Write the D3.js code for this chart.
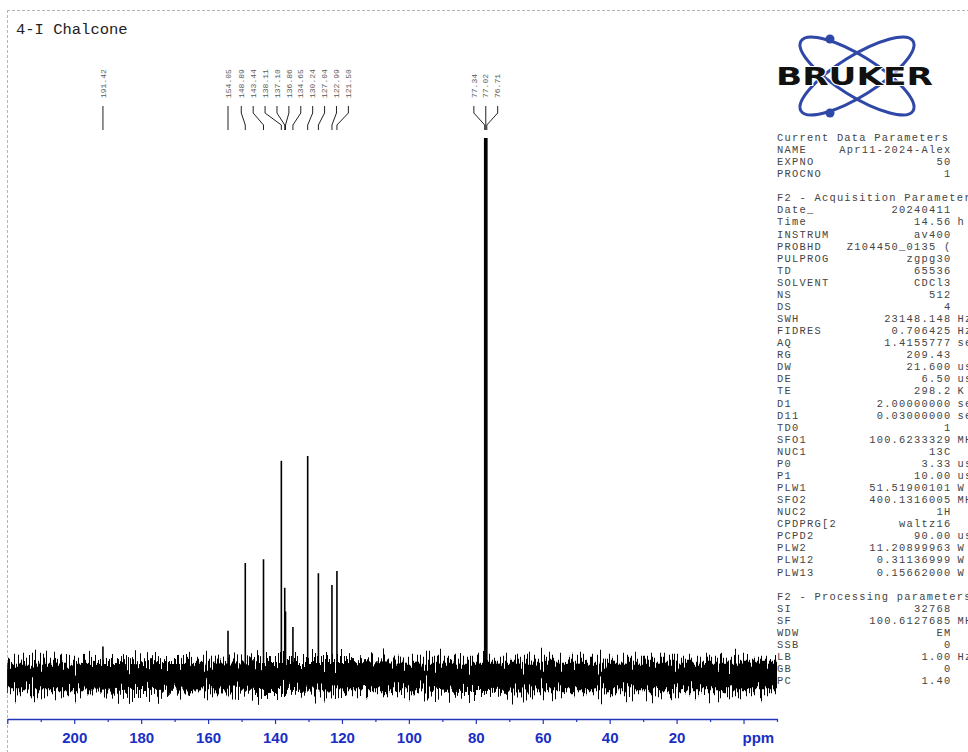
<!DOCTYPE html>
<html><head><meta charset="utf-8">
<script src="https://cdn.jsdelivr.net/npm/d3@7/dist/d3.min.js"></script>
<style>html,body{margin:0;padding:0;background:#fff;overflow:hidden}</style>
</head><body>
<svg id="chart" width="968" height="752"></svg>
<script>
// ---------- data ----------
const title = "4-I Chalcone";
const peakPpm    = [191.42, 154.05, 148.89, 143.44, 138.11, 137.10, 136.86, 134.65, 130.24, 127.04, 122.99, 121.50, 77.34, 77.02, 76.71];
const peakHeight = [5.5,    8.4,    21.0,   21.7,   40.0,   16.4,   12.0,   9.1,    40.9,   19.1,   16.9,   19.5,   100,   100,   100];
const noisePpm   = [220, 200, 180, 160, 140, 120, 100, 80, 60, 40, 20, 0, -10];
const noiseUpper = [2.3, 2.3, 2.2, 2.3, 2.4, 2.4, 2.3, 2.3, 2.3, 2.3, 2.3, 2.3, 2.3];
const noiseLower = [-2.3, -2.3, -2.4, -2.3, -2.4, -2.3, -2.3, -2.4, -2.3, -2.3, -2.3, -2.3, -2.3];
const majorTicks = [220, 200, 180, 160, 140, 120, 100, 80, 60, 40, 20, 0];
const tickLabels = ["", "200", "180", "160", "140", "120", "100", "80", "60", "40", "20", ""];
const minorTicks = [210, 190, 170, 150, 130, 110, 90, 70, 50, 30, 10, -10];
const axisUnit = "ppm";
const logoText = "BRUKER";
const paramNames = ["Current Data Parameters","NAME","EXPNO","PROCNO","",
  "F2 - Acquisition Parameters","Date_","Time","INSTRUM","PROBHD","PULPROG","TD","SOLVENT","NS","DS",
  "SWH","FIDRES","AQ","RG","DW","DE","TE","D1","D11","TD0","SFO1","NUC1","P0","P1","PLW1","SFO2",
  "NUC2","CPDPRG[2","PCPD2","PLW2","PLW12","PLW13","",
  "F2 - Processing parameters","SI","SF","WDW","SSB","LB","GB","PC"];
const paramValues = ["","Apr11-2024-Alex","50","1","",
  "","20240411","14.56","av400","Z104450_0135 (","zgpg30","65536","CDCl3","512","4",
  "23148.148","0.706425","1.4155777","209.43","21.600","6.50","298.2","2.00000000","0.03000000","1","100.6233329","13C","3.33","10.00","51.51900101","400.1316005",
  "1H","waltz16","90.00","11.20899963","0.31136999","0.15662000","",
  "","32768","100.6127685","EM","0","1.00","0","1.40"];
const paramUnits = ["","","","","",
  "","","h","","","","","","","",
  "Hz","Hz","sec","","usec","usec","K","sec","sec","","MHz","","usec","usec","W","MHz",
  "","","usec","W","W","W","",
  "","","MHz","","","Hz","",""];

// ---------- layout ----------
const svg = d3.select("#chart");
const x = d3.scaleLinear().domain([220, -10]).range([7.3, 777]);
const y = d3.scaleLinear().domain([0, 100]).range([676, 138]);
const axisY = 719;
const blue = "#2436b8";

// dashed frame
svg.append("line").attr("x1", 7).attr("x2", 968).attr("y1", 10.5).attr("y2", 10.5)
  .attr("stroke", "#b4b4b4").attr("stroke-dasharray", "3,2");
svg.append("line").attr("x1", 7.5).attr("x2", 7.5).attr("y1", 10).attr("y2", 752)
  .attr("stroke", "#b4b4b4").attr("stroke-dasharray", "3,2");

// title
svg.append("text").attr("x", 16).attr("y", 34).text(title)
  .attr("font-family", "'Liberation Mono', 'DejaVu Sans Mono', monospace")
  .attr("font-size", 15.5).attr("fill", "#222");

// ---------- noise texture filters ----------
const defs = svg.append("defs");
function noiseFilter(id, seed, scale) {
  const f = defs.append("filter").attr("id", id).attr("filterUnits", "userSpaceOnUse")
    .attr("x", 0).attr("y", 560).attr("width", 968).attr("height", 190)
    .attr("color-interpolation-filters", "sRGB");
  f.append("feTurbulence").attr("type", "fractalNoise").attr("baseFrequency", "0.65 0.003")
    .attr("numOctaves", 2).attr("seed", seed).attr("result", "t");
  f.append("feColorMatrix").attr("in", "t").attr("type", "matrix")
    .attr("values", "1 0 0 0 0  0 0 0 0 0.5  0 0 0 0 0  0 0 0 0 1").attr("result", "m");
  f.append("feDisplacementMap").attr("in", "SourceGraphic").attr("in2", "m")
    .attr("scale", scale).attr("xChannelSelector", "G").attr("yChannelSelector", "R");
}
noiseFilter("nz1", 3, 54);
noiseFilter("nz2", 17, 54);

const noiseData = noisePpm.map((p, i) => ({p, hi: noiseUpper[i], lo: noiseLower[i]}));
const band = d3.area().x(d => x(d.p)).y0(d => y(d.lo)).y1(d => y(d.hi));
["nz1", "nz2"].forEach(id => {
  svg.append("path").datum(noiseData).attr("d", band).attr("fill", "#000")
    .attr("filter", `url(#${id})`);
});

// ---------- peaks ----------
const peaks = peakPpm.map((p, i) => ({p, h: peakHeight[i]}));
svg.append("g").selectAll("line").data(peaks).join("line")
  .attr("x1", d => x(d.p)).attr("x2", d => x(d.p))
  .attr("y1", y(0)).attr("y2", d => y(d.h))
  .attr("stroke", "#000").attr("stroke-width", 1.6);

// ---------- peak labels (spread to avoid overlap) ----------
const gap = 11.9;
const sorted = peaks.map(d => ({...d, px: x(d.p)})).sort((a, b) => a.px - b.px);
let clusters = sorted.map(d => ({m: [d]}));
function place(c) {
  const mean = d3.mean(c.m, d => d.px);
  c.start = mean - (c.m.length - 1) / 2 * gap;
  c.end = c.start + (c.m.length - 1) * gap;
}
clusters.forEach(place);
let merged = true;
while (merged) {
  merged = false;
  for (let i = 0; i < clusters.length - 1; i++) {
    if (clusters[i].end + gap > clusters[i + 1].start) {
      clusters[i].m = clusters[i].m.concat(clusters[i + 1].m);
      clusters.splice(i + 1, 1);
      place(clusters[i]);
      merged = true;
      break;
    }
  }
}
clusters.forEach(c => c.m.forEach((d, i) => d.lx = c.start + i * gap));

const gl = svg.append("g");
gl.selectAll("path").data(sorted).join("path")
  .attr("d", d => `M${d.lx},106 L${d.lx},113 L${d.px},125 L${d.px},130`)
  .attr("fill", "none").attr("stroke", "#222").attr("stroke-width", 1);
gl.selectAll("text").data(sorted).join("text")
  .attr("transform", d => `translate(${d.lx},98) rotate(-90)`)
  .attr("dy", "0.33em")
  .attr("font-family", "'Liberation Mono', 'DejaVu Sans Mono', monospace")
  .attr("font-size", 8).attr("fill", "#5a5a5a")
  .text(d => d.p.toFixed(2));

// ---------- axis ----------
const gAxis = svg.append("g").attr("transform", `translate(0,${axisY})`);
gAxis.call(d3.axisBottom(x).tickValues(majorTicks).tickSize(5).tickSizeOuter(0)
  .tickFormat((d, i) => tickLabels[i]));
const gMinor = svg.append("g").attr("transform", `translate(0,${axisY})`);
gMinor.call(d3.axisBottom(x).tickValues(minorTicks).tickSize(3).tickSizeOuter(0).tickFormat(""));
gMinor.select(".domain").remove();
svg.selectAll(".domain").attr("stroke", blue).attr("stroke-width", 1.4);
svg.selectAll(".tick line").attr("stroke", blue).attr("stroke-width", 1.2);
gAxis.selectAll(".tick text").attr("y", 24).attr("dy", 0)
  .attr("font-family", "'Liberation Sans', Arial, sans-serif").attr("font-weight", "bold")
  .attr("font-size", 15).attr("fill", "#1a2fc4");
svg.append("text").attr("x", x(0) - 1).attr("y", axisY + 24).text(axisUnit)
  .attr("font-family", "'Liberation Sans', Arial, sans-serif").attr("font-weight", "bold")
  .attr("font-size", 15).attr("fill", "#1a2fc4");

// ---------- logo ----------
const logo = svg.append("g");
const lc = [857, 76];
[32, -32].forEach(a => {
  logo.append("ellipse").attr("cx", 0).attr("cy", 0).attr("rx", 66).attr("ry", 20)
    .attr("transform", `translate(${lc[0]},${lc[1]}) rotate(${a})`)
    .attr("fill", "none").attr("stroke", "#2f47a6").attr("stroke-width", 3);
});
logo.append("circle").attr("cx", 830).attr("cy", 39).attr("r", 4.5).attr("fill", "#2f47a6");
logo.append("circle").attr("cx", 830).attr("cy", 113).attr("r", 4.5).attr("fill", "#2f47a6");
logo.append("text").attr("x", 776).attr("y", 85).text(logoText)
  .attr("font-family", "'DejaVu Sans', sans-serif").attr("font-weight", "bold")
  .attr("font-size", 25).attr("textLength", 157).attr("lengthAdjust", "spacingAndGlyphs")
  .attr("fill", "#111").attr("stroke", "#fff").attr("stroke-width", 2).attr("paint-order", "stroke");

// ---------- parameter block ----------
const gp = svg.append("g")
  .attr("font-family", "'Liberation Mono', 'DejaVu Sans Mono', monospace")
  .attr("font-size", 10.4).attr("letter-spacing", 1.25).attr("fill", "#444");
paramNames.forEach((n, i) => {
  const yy = 141 + i * 12.07;
  if (n) gp.append("text").attr("x", 777).attr("y", yy).text(n);
  if (paramValues[i]) gp.append("text").attr("x", 951.5).attr("y", yy).attr("text-anchor", "end").text(paramValues[i]);
  if (paramUnits[i]) gp.append("text").attr("x", 957.5).attr("y", yy).text(paramUnits[i]);
});
</script>
</body></html>
